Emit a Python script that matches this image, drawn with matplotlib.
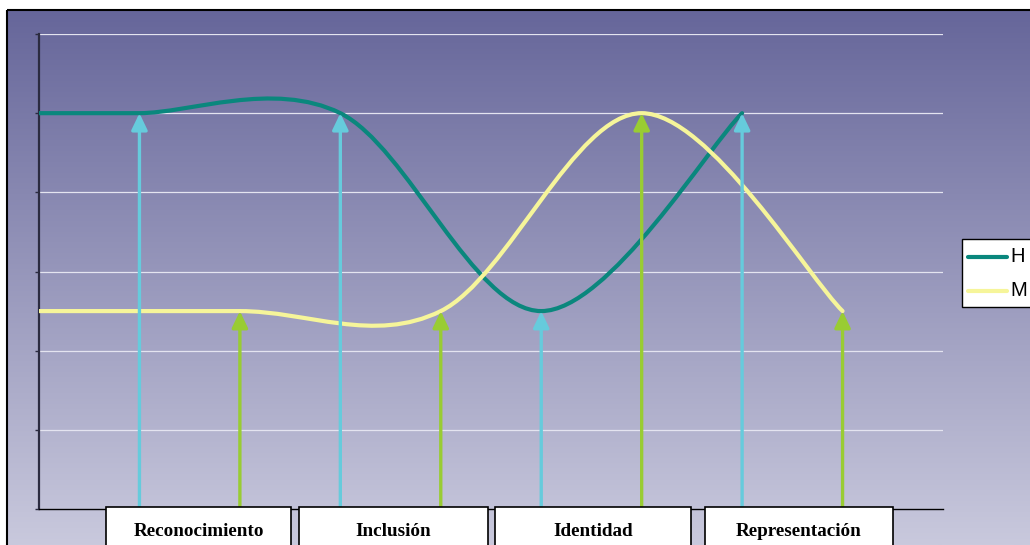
import numpy as np
import matplotlib
matplotlib.use("Agg")
import matplotlib.pyplot as plt
from matplotlib.path import Path
from matplotlib.patches import PathPatch, Rectangle
from matplotlib.colors import LinearSegmentedColormap

# Series: posición de la categoría y nivel
h_x = [0, 1, 3, 5, 7]
h_y = [5, 5, 5, 2.5, 5]
m_x = [0, 2, 4, 6, 8]
m_y = [2.5, 2.5, 2.5, 5, 2.5]

series = ["H", "M"]
etapas = ["Reconocimiento", "Inclusión", "Identidad", "Representación"]

COL_H = "#0a877d"
COL_M = "#f6f59a"
COL_FLECHA_H = "#66cbdc"
COL_FLECHA_M = "#99cc33"

W, H = 1030, 545


def curva_suave(xs, ys):
    """Curva Bezier tipo Catmull-Rom (línea suavizada) que pasa por los puntos."""
    pts = np.column_stack([xs, ys]).astype(float)
    n = len(pts)
    verts = [pts[0]]
    codes = [Path.MOVETO]
    for i in range(n - 1):
        a = pts[i - 1] if i > 0 else pts[i]
        d = pts[i + 2] if i + 2 < n else pts[i + 1]
        c1 = pts[i] + (pts[i + 1] - a) / 6
        c2 = pts[i + 1] - (d - pts[i]) / 6
        verts += [c1, c2, pts[i + 1]]
        codes += [Path.CURVE4] * 3
    return Path(verts, codes)


fig = plt.figure(figsize=(W / 100, H / 100), dpi=100)
fig.patch.set_facecolor("white")

# fondo degradado con marco
fondo = fig.add_axes([0, 0, 1, 1], zorder=0)
grad = np.linspace(0, 1, 256)[:, None]
cmap = LinearSegmentedColormap.from_list("fondo", ["#66669a", "#c9c9dd"])
fondo.imshow(grad, cmap=cmap, extent=(7, W, H, 10), aspect="auto")
fondo.add_patch(Rectangle((7, 10), W, H, fill=False, ec="black", lw=1.5))
fondo.set_xlim(0, W)
fondo.set_ylim(H, 0)
fondo.axis("off")

# área de trazado
ax = fig.add_axes([39 / W, 1 - 509 / H, 904 / W, 475 / H], zorder=1)
ax.set_facecolor("none")
ax.set_xlim(0, 9)
ax.set_ylim(0, 6)
ax.set_yticks(range(7))
ax.set_yticklabels([])
ax.set_xticks([])
ax.grid(axis="y", color="#e4e4f0", lw=0.9)
ax.tick_params(axis="y", length=3, color="#2b2b40", width=1)
for s in ["top", "right"]:
    ax.spines[s].set_visible(False)
ax.spines["left"].set_color("#2b2b40")
ax.spines["left"].set_linewidth(1.6)
ax.spines["bottom"].set_color("black")
ax.spines["bottom"].set_linewidth(1)

for xs, ys, col, col_f in [(h_x, h_y, COL_H, COL_FLECHA_H),
                           (m_x, m_y, COL_M, COL_FLECHA_M)]:
    ax.add_patch(PathPatch(curva_suave(xs, ys), fill=False, ec=col, lw=3,
                           capstyle="round", joinstyle="round", zorder=3))
    # flechas desde el eje hasta cada punto
    for x, y in zip(xs[1:], ys[1:]):
        ax.annotate("", xy=(x, y), xytext=(x, 0),
                    arrowprops=dict(arrowstyle="-|>,head_length=1.0,head_width=0.48",
                                    color=col_f, lw=2.4, shrinkA=0, shrinkB=0),
                    zorder=4)

# cajas de etapas y leyenda
capa = fig.add_axes([0, 0, 1, 1], zorder=2)
capa.set_xlim(0, W)
capa.set_ylim(H, 0)
capa.axis("off")

cajas = [(106, 291), (299, 488), (495, 691), (705, 893)]
for (x0, x1), etiqueta in zip(cajas, etapas):
    capa.add_patch(Rectangle((x0, 507), x1 - x0, 60, fc="white", ec="black", lw=1.2))
    capa.text((x0 + x1) / 2, 531, etiqueta, ha="center", va="center",
              family="Liberation Serif", fontweight="bold", fontsize=13.8)

capa.add_patch(Rectangle((962, 239), 100, 68, fc="white", ec="black", lw=1))
for yy, nombre, col in zip([257, 291], series, [COL_H, COL_M]):
    capa.plot([968, 1007], [yy, yy], color=col, lw=3, solid_capstyle="round")
    capa.text(1010, yy, nombre, ha="left", va="center",
              family="Liberation Sans", fontsize=14.5)

fig.savefig("out.png", dpi=100)
